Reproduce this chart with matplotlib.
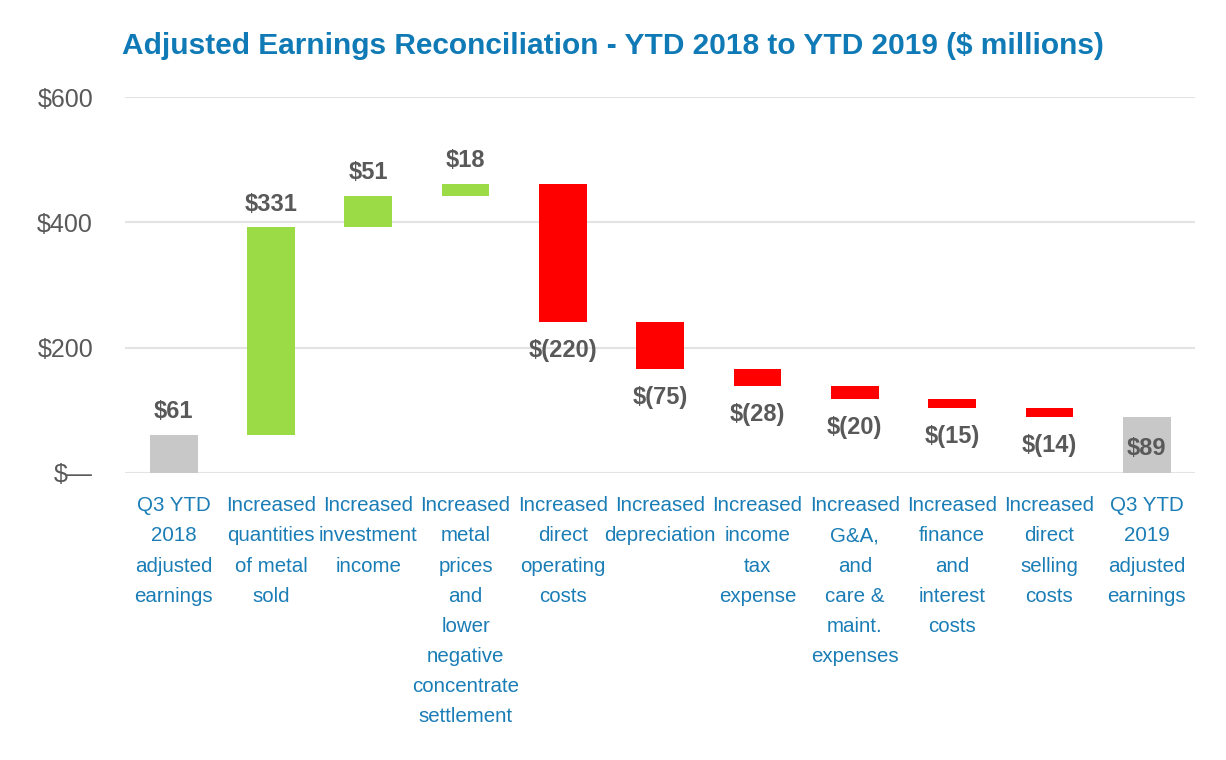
import numpy as np
import matplotlib.pyplot as plt

plt.rcParams['font.family'] = ['Liberation Sans', 'DejaVu Sans']

# data
categories = ['Q3 YTD\n2018\nadjusted\nearnings',
              'Increased\nquantities\nof metal\nsold',
              'Increased\ninvestment\nincome',
              'Increased\nmetal\nprices\nand\nlower\nnegative\nconcentrate\nsettlement',
              'Increased\ndirect\noperating\ncosts',
              'Increased\ndepreciation',
              'Increased\nincome\ntax\nexpense',
              'Increased\nG&A,\nand\ncare &\nmaint.\nexpenses',
              'Increased\nfinance\nand\ninterest\ncosts',
              'Increased\ndirect\nselling\ncosts',
              'Q3 YTD\n2019\nadjusted\nearnings']
changes = [61, 331, 51, 18, -220, -75, -28, -20, -15, -14, 89]
value_labels = ['$61', '$331', '$51', '$18', '$(220)', '$(75)', '$(28)',
                '$(20)', '$(15)', '$(14)', '$89']
yticks = [0, 200, 400, 600]
ytick_labels = ['$\u2014', '$200', '$400', '$600']

GREEN = '#9bdb45'
RED = '#ff0000'
GREY = '#c8c8c8'
BLUE = '#1a7db6'
TXT = '#595959'

fig = plt.figure(figsize=(12.26, 7.60), dpi=100)
ax = fig.add_axes([0.102, 0.378, 0.873, 0.494])

x = np.arange(len(changes))
n = len(changes)
bottoms, heights, colors = [], [], []
running = 0
for i, c in enumerate(changes):
    if i == 0 or i == n - 1:
        bottoms.append(0)
        heights.append(c)
        colors.append(GREY)
        running = c if i == 0 else running
    elif c >= 0:
        bottoms.append(running)
        heights.append(c)
        colors.append(GREEN)
        running += c
    else:
        running += c
        bottoms.append(running)
        heights.append(-c)
        colors.append(RED)

ax.bar(x, heights, bottom=bottoms, width=0.49, color=colors, zorder=3)

for i in range(n):
    top = bottoms[i] + heights[i]
    if i == n - 1:
        ax.text(x[i], 38, value_labels[i], ha='center', va='center',
                fontsize=17, fontweight='bold', color=TXT, zorder=4)
    elif changes[i] >= 0:
        ax.annotate(value_labels[i], (x[i], top), xytext=(0, 8.5),
                    textcoords='offset points', ha='center', va='bottom',
                    fontsize=17, fontweight='bold', color=TXT)
    else:
        ax.annotate(value_labels[i], (x[i], bottoms[i]), xytext=(0, -12),
                    textcoords='offset points', ha='center', va='top',
                    fontsize=17, fontweight='bold', color=TXT)

ax.set_xlim(-0.5, n - 0.5)
ax.set_ylim(0, 600)
ax.set_yticks(yticks)
ax.set_yticklabels(ytick_labels, fontsize=18, color=TXT)
ax.tick_params(axis='y', length=0, pad=23)
ax.set_xticks(x)
ax.set_xticklabels(categories, fontsize=14.8, color=BLUE, linespacing=1.74)
ax.tick_params(axis='x', length=0, pad=17)
ax.grid(axis='y', color='#e3e3e3', linewidth=1.5, zorder=0)
for s in ax.spines.values():
    s.set_visible(False)

fig.suptitle('Adjusted Earnings Reconciliation - YTD 2018 to YTD 2019 ($ millions)',
             x=0.5, y=0.958, fontsize=21.5, fontweight='bold', color='#0f7ab5')

fig.savefig('out.png', dpi=100, facecolor='white')
